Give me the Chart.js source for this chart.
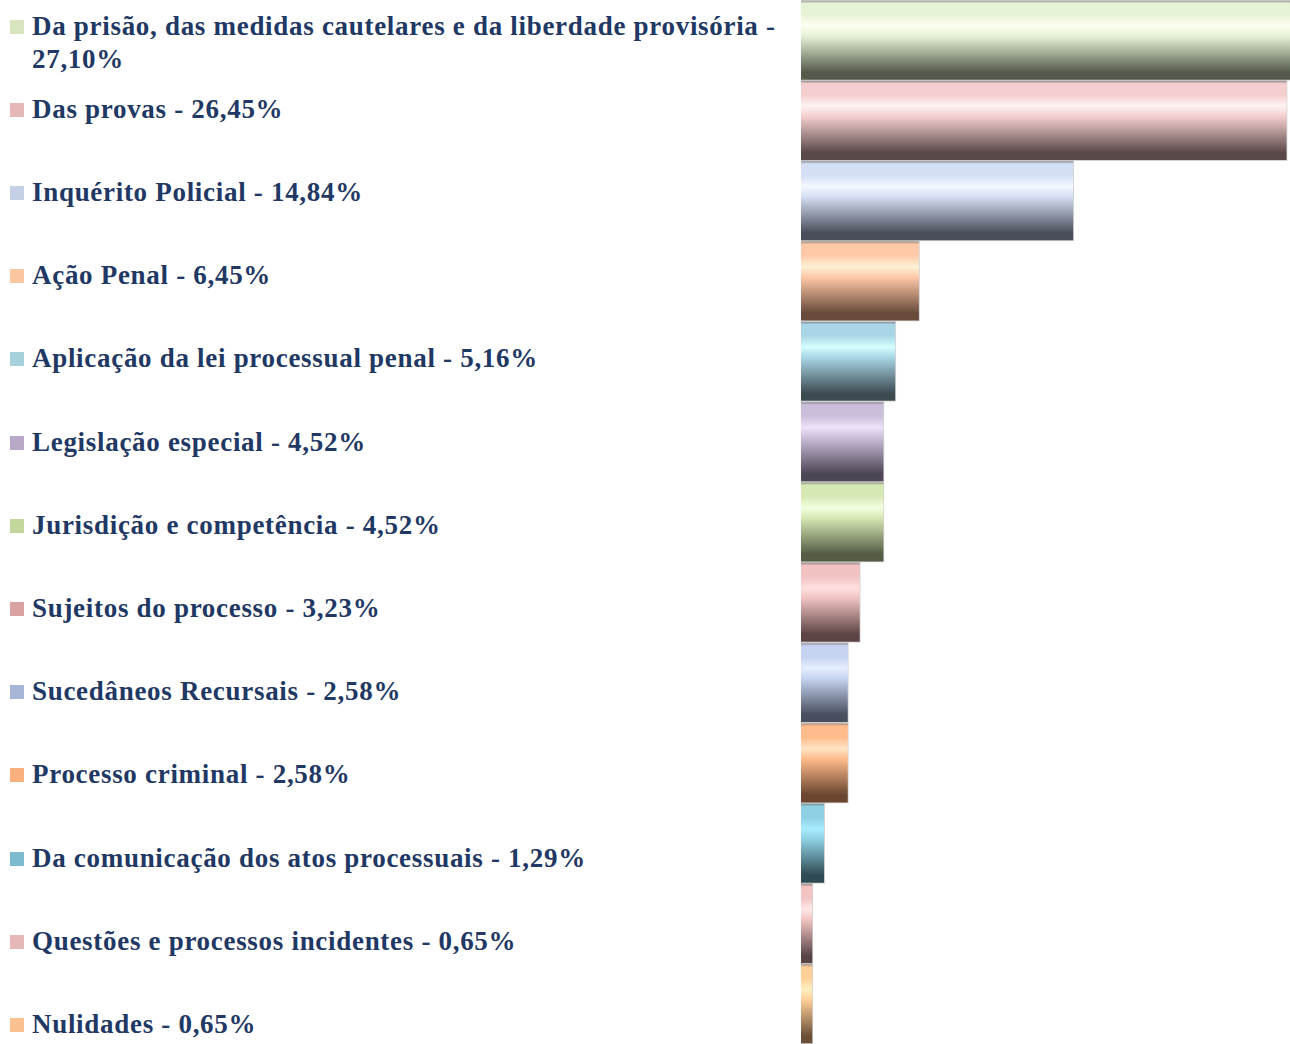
<!DOCTYPE html>
<html>
<head>
<meta charset="utf-8">
<script src="https://cdn.jsdelivr.net/npm/chart.js@4"></script>
<style>
  html, body { margin: 0; padding: 0; background: #fff; }
  #wrap { position: relative; width: 1290px; height: 1044px; overflow: hidden; }
  #chartBox { position: absolute; left: 801px; top: 0; width: 489px; height: 1044px; }
  #legend { position: absolute; left: 0; top: 0; width: 800px; height: 1044px; }
  .item { position: absolute; left: 10px; width: 790px; font-family: "Liberation Serif", "DejaVu Serif", serif;
          font-weight: bold; font-size: 27px; letter-spacing: 0.7px; line-height: 33px; color: #1f3864; }
  .item .sw { position: absolute; left: 0; top: 10px; width: 14px; height: 14px; }
  .item .tx { display: block; margin-left: 22px; width: 765px; }
</style>
</head>
<body>
<div id="wrap">
  <div id="legend"></div>
  <div id="chartBox"><canvas id="bars"></canvas></div>
</div>
<script>
// Categories and shares (%) as shown in the legend
const categories = [
  'Da prisão, das medidas cautelares e da liberdade provisória',
  'Das provas',
  'Inquérito Policial',
  'Ação Penal',
  'Aplicação da lei processual penal',
  'Legislação especial',
  'Jurisdição e competência',
  'Sujeitos do processo',
  'Sucedâneos Recursais',
  'Processo criminal',
  'Da comunicação dos atos processuais',
  'Questões e processos incidentes',
  'Nulidades'
];
const shares = [27.10, 26.45, 14.84, 6.45, 5.16, 4.52, 4.52, 3.23, 2.58, 2.58, 1.29, 0.65, 0.65];

// legend swatch colours, and bar gradient stops (top, highlight, dark bottom)
const swatch = ['#d7e4bd', '#e6b9b8', '#c6d0e4', '#fcc5a2', '#a5d0dc', '#b8a9c9', '#c3d69b',
                '#d9a3a3', '#a7b6d6', '#f9b07e', '#7dbccf', '#e6b9b8', '#fac090'];
const barTop = ['#e6f2d6', '#f4cece', '#d4def4', '#ffc9a8', '#a9d6e6', '#cbbedb', '#d6e8b4',
                '#f0c2c2', '#c5d3f0', '#ffbb8c', '#8fd0e3', '#f2c4c4', '#ffcf98'];
const barMid = ['#fcfff0', '#fff3f3', '#f4f8ff', '#fff1d6', '#d6feff', '#ede2f8', '#f2ffe0',
                '#ffe0e0', '#e6eeff', '#ffe4c4', '#a8ecff', '#ffe8e8', '#fff0c0'];
const barLow = ['#545a4c', '#5a4949', '#4a4e5a', '#674a3a', '#3d4b51', '#4d4655', '#545c44',
                '#5c4444', '#484e5e', '#6a4630', '#2e4a52', '#5a4446', '#6a5038'];

// HTML legend (rows on a fixed pitch, not tied to the bar slots)
const legendEl = document.getElementById('legend');
categories.forEach((c, i) => {
  const d = document.createElement('div');
  d.className = 'item';
  d.style.top = (26 + i * 83.2 - 16.5) + 'px';
  d.innerHTML = '<span class="sw" style="background:' + swatch[i] + '"></span>' +
    '<span class="tx">' + c + ' - ' + shares[i].toFixed(2).replace('.', ',') + '%</span>';
  legendEl.appendChild(d);
});

function barGradient(ctx) {
  const chart = ctx.chart;
  const area = chart.chartArea;
  if (!area) return swatch[ctx.dataIndex];
  const y = chart.scales.y;
  const slot = area.height / categories.length;
  const mid = y.getPixelForValue(ctx.dataIndex);
  const top = mid - slot / 2, bot = mid + slot / 2;
  const g = chart.ctx.createLinearGradient(0, top, 0, bot);
  const i = ctx.dataIndex;
  g.addColorStop(0, barLow[i] + '80');
  g.addColorStop(0.04, barTop[i]);
  g.addColorStop(0.18, barTop[i]);
  g.addColorStop(0.32, barMid[i]);
  g.addColorStop(0.45, barTop[i]);
  g.addColorStop(0.9, barLow[i]);
  g.addColorStop(1, barLow[i]);
  return g;
}

new Chart(document.getElementById('bars'), {
  type: 'bar',
  data: {
    labels: categories,
    datasets: [{
      data: shares,
      backgroundColor: barGradient,
      borderColor: 'rgba(130,130,130,0.35)',
      borderWidth: 1,
      borderSkipped: 'left',
      barPercentage: 1,
      categoryPercentage: 1
    }]
  },
  options: {
    indexAxis: 'y',
    responsive: true,
    maintainAspectRatio: false,
    animation: false,
    layout: { padding: 0 },
    plugins: { legend: { display: false }, tooltip: { enabled: false } },
    scales: {
      x: { display: false, min: 0, max: 26.6 },
      y: { display: false }
    }
  }
});
</script>
</body>
</html>
